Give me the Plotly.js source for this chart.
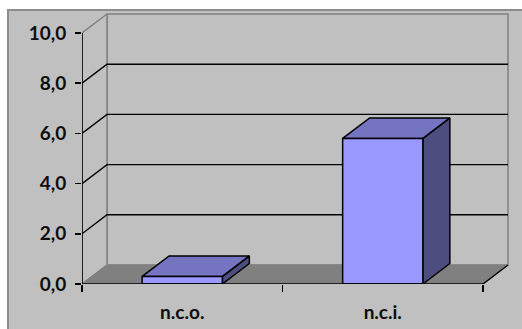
<!DOCTYPE html>
<html>
<head>
<meta charset="utf-8">
<script src="https://cdn.plot.ly/plotly-3.0.1.min.js"></script>
<style>html,body{margin:0;padding:0;background:#fff;}#chart{width:522px;height:329px;}</style>
</head>
<body>
<div id="chart"></div>
<script>
// ---- data ----
const categories = ['n.c.o.', 'n.c.i.'];
const values = [0.3, 5.8];
const yTickVals = [0, 2, 4, 6, 8, 10];
const yTickText = ['0,0', '2,0', '4,0', '6,0', '8,0', '10,0'];
const gridVals = [2, 4, 6, 8];

// ---- geometry (pixel-based scale settings) ----
const W = 522, H = 329;
const ML = 82, MB = 45;
const pxPerX = 200.5, pxPerY = 25.1;
const plotW = W - ML, plotH = H - MB;
const xMin = -0.5, xMax = xMin + plotW / pxPerX;
const yMin = 0, yMax = plotH / pxPerY;
const yTop = 10;
const DX = 25 / pxPerX, DY = 19 / pxPerY;
const BDX = 27 / pxPerX, BDY = 20.5 / pxPerY;
const barW = 0.4;
const catIdx = categories.map((c, i) => i);
const xL = -0.5, xR = categories.length - 0.5;
const boundaries = categories.map((c, i) => i - 0.5).concat([xR]);

const traces = [];
function poly(xs, ys, fill, lineColor, lineWidth) {
  traces.push({
    type: 'scatter', mode: 'lines', x: xs.concat([xs[0]]), y: ys.concat([ys[0]]),
    fill: 'toself', fillcolor: fill,
    line: {color: lineColor, width: lineWidth},
    hoverinfo: 'skip', showlegend: false
  });
}
function line(xs, ys, color, width) {
  traces.push({
    type: 'scatter', mode: 'lines', x: xs, y: ys,
    line: {color: color, width: width}, hoverinfo: 'skip', showlegend: false
  });
}

// back wall
poly([xL + DX, xR + DX, xR + DX, xL + DX], [DY, DY, yTop + DY, yTop + DY], '#c0c0c0', '#808080', 1.5);
// side wall
poly([xL, xL + DX, xL + DX, xL], [0, DY, yTop + DY, yTop], '#c0c0c0', '#808080', 1.5);
// floor
poly([xL, xR, xR + DX, xL + DX], [0, 0, DY, DY], '#808080', '#808080', 1);
line([xR, xR + DX], [0, DY], '#000000', 1.4);
// gridlines
gridVals.forEach(v => {
  line([xL, xL + DX, xR + DX], [v, v + DY, v + DY], '#000000', 1.4);
});
// bars
catIdx.forEach(i => {
  const v = values[i];
  const a = i - barW / 2, b = i + barW / 2;
  poly([b, b + BDX, b + BDX, b], [0, BDY, v + BDY, v], '#4d4d80', '#000000', 1.5);
  poly([a, b, b + BDX, a + BDX], [v, v, v + BDY, v + BDY], '#7474c0', '#000000', 1.5);
  poly([a, b, b, a], [0, 0, v, v], '#9999ff', '#000000', 1.5);
});
// axis lines
line([xL, xL], [0, yTop], '#000000', 1.6);
line([xL, xR], [0, 0], '#000000', 1.6);

const font = {family: 'Lato, "Open Sans", sans-serif', size: 19, color: '#0d0d0d', weight: 'bold'};

const layout = {
  width: W, height: H,
  margin: {l: ML, r: 0, t: 0, b: MB, pad: 0},
  paper_bgcolor: '#ffffff',
  plot_bgcolor: 'rgba(0,0,0,0)',
  showlegend: false,
  xaxis: {
    range: [xMin, xMax], autorange: false, fixedrange: true,
    tickvals: catIdx, ticktext: categories, ticks: '',
    showline: false, showgrid: false, zeroline: false,
    tickfont: font, ticklabelstandoff: 15
  },
  xaxis2: {
    overlaying: 'x', matches: 'x', side: 'bottom', anchor: 'y',
    range: [xMin, xMax], autorange: false, fixedrange: true,
    tickvals: boundaries, showticklabels: false,
    ticks: 'outside', ticklen: 7, tickwidth: 1.5, tickcolor: '#000',
    showline: false, showgrid: false, zeroline: false
  },
  yaxis: {
    range: [yMin, yMax], autorange: false, fixedrange: true,
    tickvals: yTickVals, ticktext: yTickText,
    ticks: 'outside', ticklen: 6, tickwidth: 1.5, tickcolor: '#000',
    showline: false, showgrid: false, zeroline: false,
    tickfont: font, ticklabelstandoff: 5
  },
  shapes: [{
    type: 'rect', xref: 'paper', yref: 'paper', layer: 'below',
    x0: (8 - ML) / plotW, x1: 1.2, y0: -0.5, y1: (plotH - 10) / plotH,
    fillcolor: '#c0c0c0', line: {color: '#8c8c8c', width: 2}
  }]
};
traces.push({type: 'scatter', mode: 'lines', x: [xL], y: [0], xaxis: 'x2', yaxis: 'y',
  line: {width: 0}, hoverinfo: 'skip', showlegend: false});

Plotly.newPlot('chart', traces, layout, {staticPlot: true, displayModeBar: false});
</script>
</body>
</html>
